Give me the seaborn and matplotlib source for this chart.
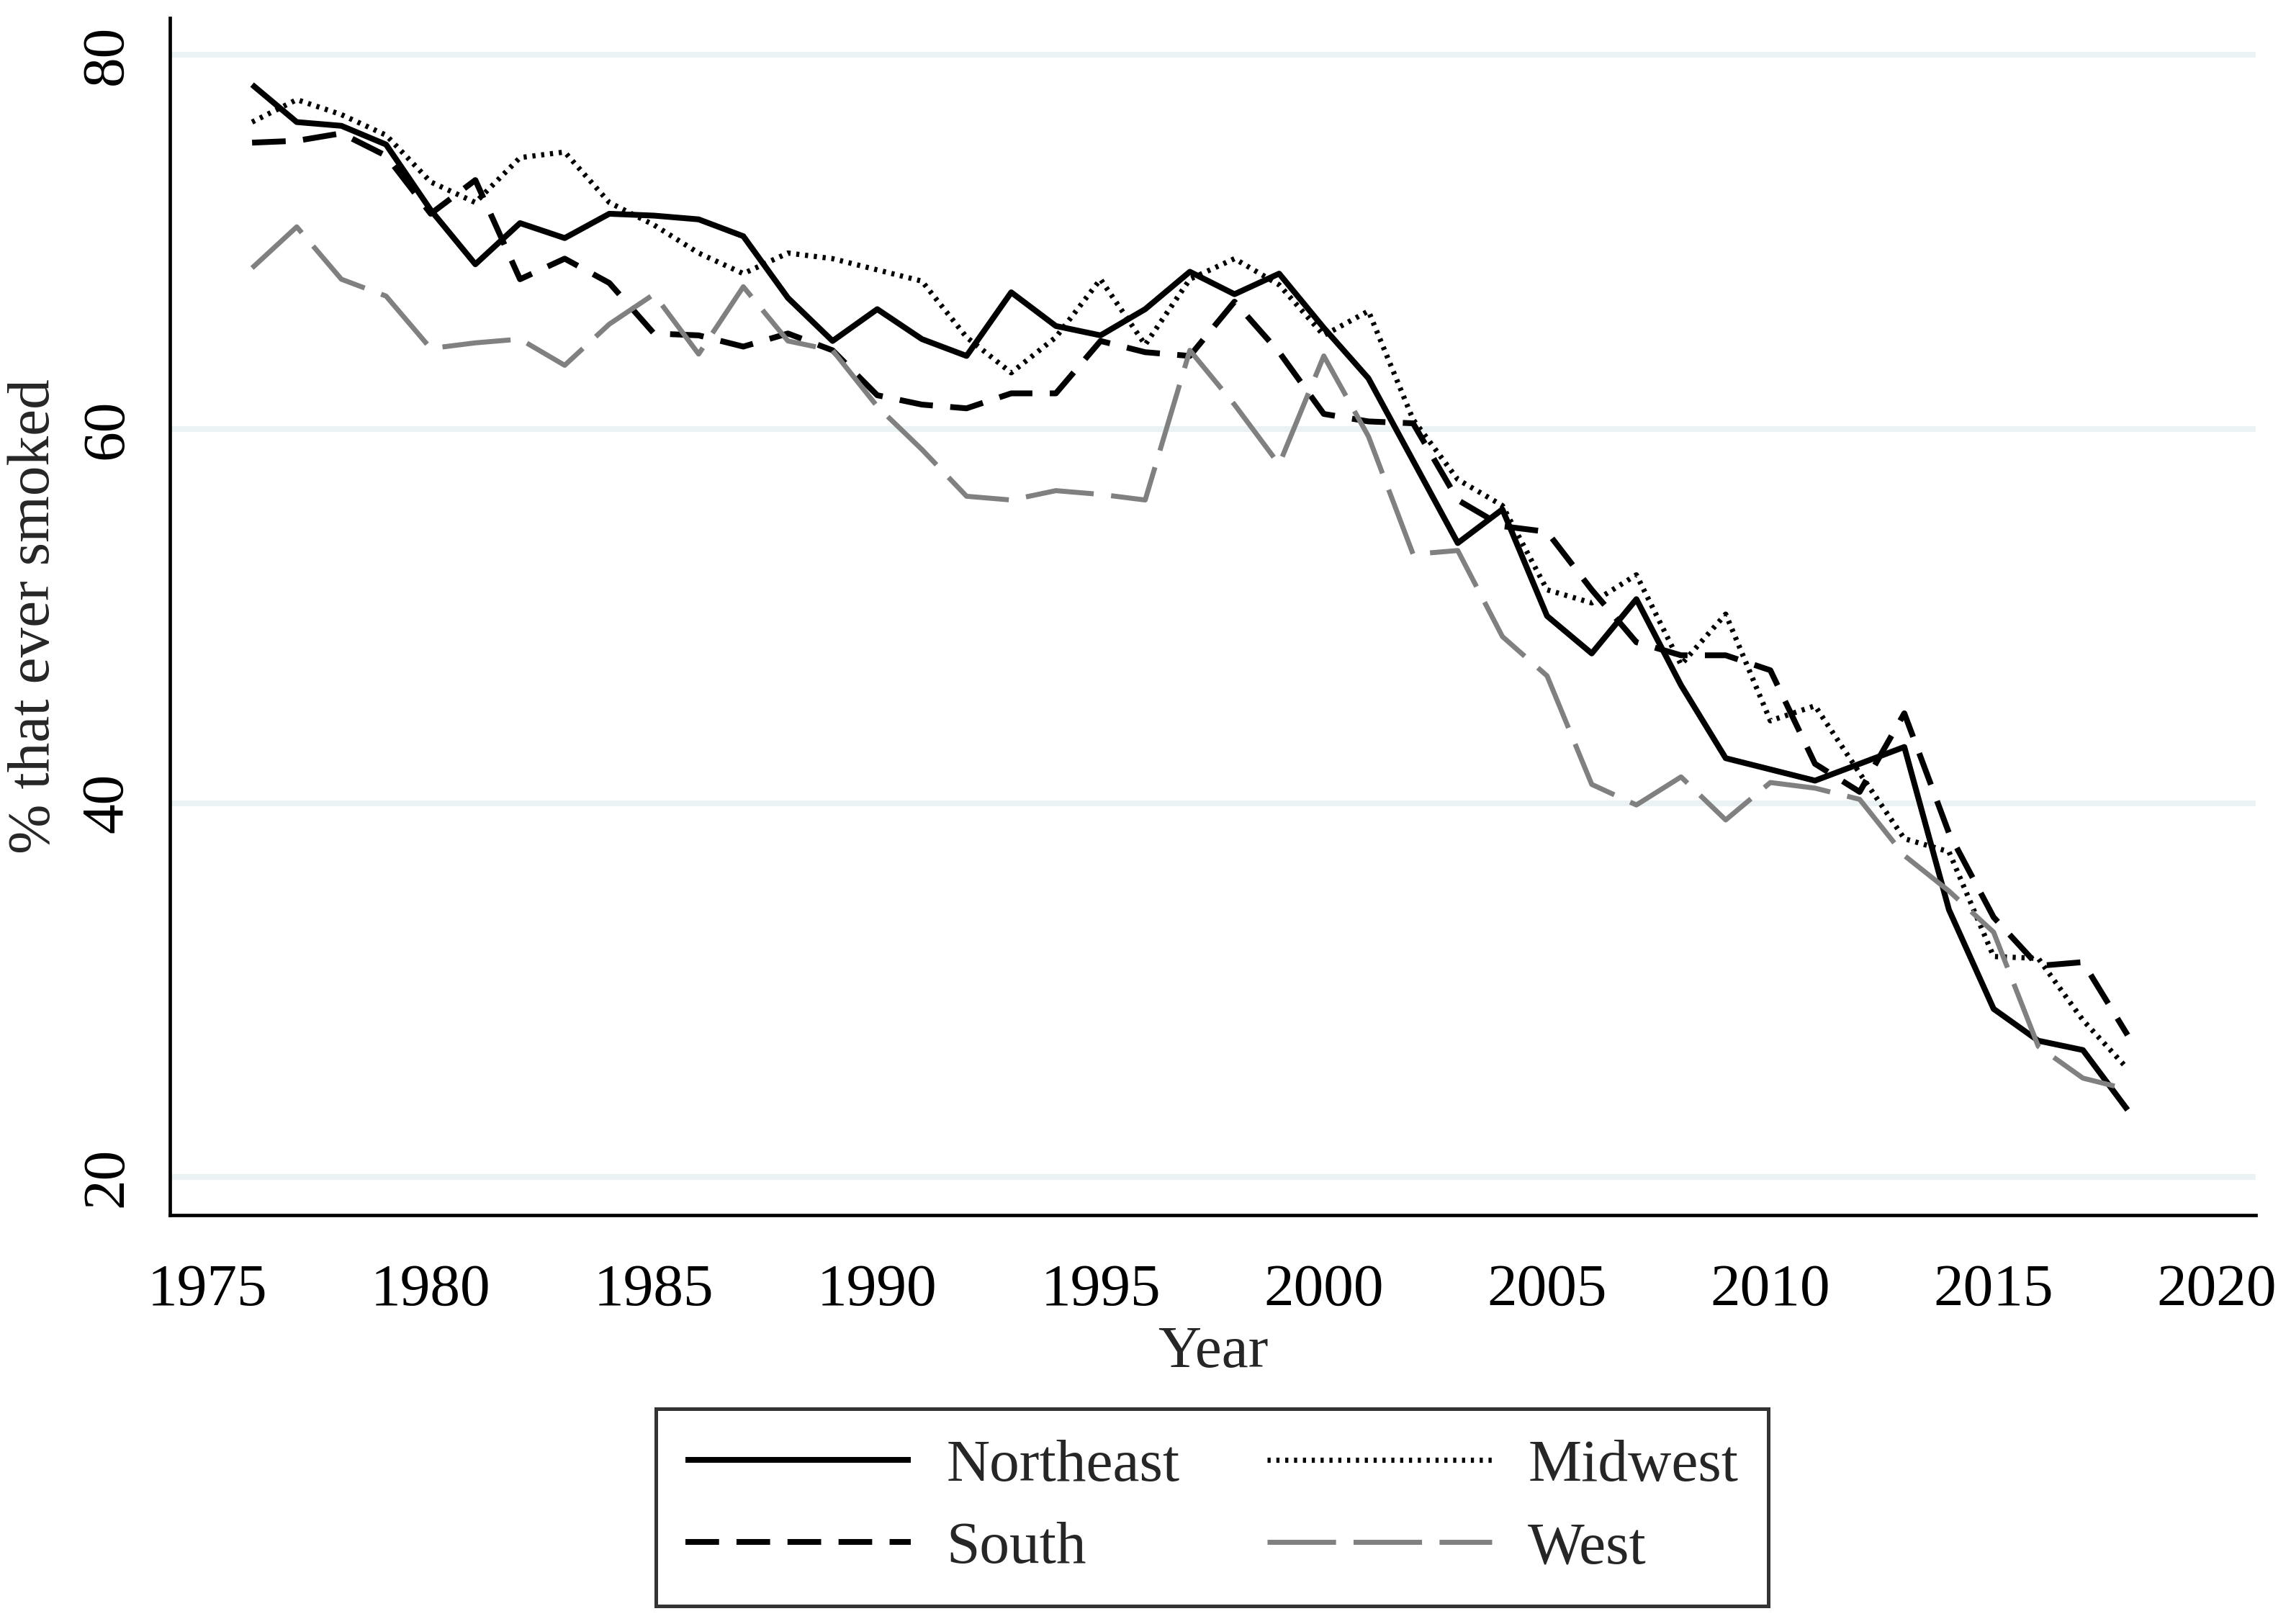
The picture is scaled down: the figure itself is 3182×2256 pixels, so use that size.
import numpy as np
import pandas as pd
import matplotlib
matplotlib.use("Agg")
import matplotlib.pyplot as plt
import seaborn as sns

# share of respondents that ever smoked, by census region
years = list(range(1976, 2019))
northeast = [78.4, 76.4, 76.2, 75.2, 71.7, 68.8, 71.0, 70.2, 71.5, 71.4,
             71.2, 70.3, 67.0, 64.7, 66.4, 64.8, 63.9, 67.3, 65.5, 65.0,
             66.4, 68.4, 67.2, 68.3, 65.4, 62.7, 58.3, 53.9, 55.7, 50.0,
             48.0, 50.9, 46.3, 42.4, 41.8, 41.2, 42.1, 43.0, 34.3, 29.0,
             27.3, 26.8, 23.6]
midwest = [76.4, 77.6, 76.8, 75.7, 73.2, 72.1, 74.5, 74.8, 72.1, 70.9,
           69.4, 68.3, 69.4, 69.1, 68.5, 67.9, 64.9, 63.0, 64.9, 68.0,
           64.5, 68.0, 69.1, 67.7, 65.0, 66.3, 60.5, 57.3, 55.9, 51.4,
           50.7, 52.2, 47.4, 50.1, 44.4, 45.2, 41.6, 38.1, 37.4, 31.8,
           31.7, 28.4, 25.8]
south = [75.3, 75.4, 75.8, 74.6, 71.5, 73.3, 68.0, 69.1, 67.8, 65.1,
         65.0, 64.4, 65.1, 64.2, 61.8, 61.3, 61.1, 61.9, 61.9, 64.7,
         64.1, 63.9, 66.8, 64.1, 60.8, 60.4, 60.3, 56.2, 54.8, 54.5,
         51.4, 48.6, 47.9, 47.9, 47.1, 42.1, 40.6, 44.8, 38.4, 33.9,
         31.3, 31.5, 27.6]
west = [68.6, 70.8, 68.0, 67.1, 64.3, 64.6, 64.8, 63.4, 65.6, 67.2,
        64.0, 67.6, 64.7, 64.2, 61.2, 58.9, 56.4, 56.2, 56.7, 56.5,
        56.2, 64.2, 61.3, 58.1, 63.9, 59.6, 53.3, 53.5, 48.9, 46.8,
        41.0, 39.9, 41.4, 39.1, 41.1, 40.8, 40.2, 37.2, 35.3, 33.1,
        27.0, 25.3, 24.7]

regions = ["Northeast", "Midwest", "South", "West"]
values = {"Northeast": northeast, "Midwest": midwest, "South": south, "West": west}
colors = {"Northeast": "black", "Midwest": "black", "South": "black", "West": "#808080"}
widths = {"Northeast": 2.9, "Midwest": 2.6, "South": 2.9, "West": 2.5}
styles = {"Northeast": "-", "Midwest": (0, (0.6, 1.1)),
          "South": (0, (5.8, 3.0)), "West": (0, (13.7, 3.5))}

df = pd.DataFrame({"year": years, **values}).melt(id_vars="year", var_name="region", value_name="pct")

sns.set_style("white")
plt.rcParams['font.family'] = ['Liberation Serif', 'DejaVu Serif']
plt.rcParams['lines.solid_capstyle'] = 'butt'

fig = plt.figure(figsize=(15.91, 11.28), dpi=200)
ax = fig.add_axes([0.07417, 0.2518, 0.91044, 0.7372])

for r in regions:
    sns.lineplot(data=df[df["region"] == r], x="year", y="pct", ax=ax, label=r,
                 color=colors[r], linewidth=widths[r], linestyle=styles[r])

ax.set_xlim(1974.16, 2020.87)
ax.set_ylim(17.98, 81.97)
ax.set_xticks(range(1975, 2021, 5))
ax.set_yticks([20, 40, 60, 80])
ax.yaxis.grid(True, color="#EAF2F3", linewidth=2.9)
ax.xaxis.grid(False)
ax.set_axisbelow(True)

sns.despine(ax=ax)
for s in ["left", "bottom"]:
    ax.spines[s].set_linewidth(1.7)
    ax.spines[s].set_color("black")

ax.tick_params(axis="x", length=12.2, width=1.8, labelsize=30, pad=12, colors="black")
ax.tick_params(axis="y", length=12.6, width=1.8, labelsize=30, pad=5, colors="black")
for lbl in ax.get_yticklabels():
    lbl.set_rotation(90)
    lbl.set_va("center")

ax.set_xlabel("Year", fontsize=30)
ax.xaxis.label.set_va("center")
ax.xaxis.set_label_coords(0.5, -0.115)
ax.set_ylabel("% that ever smoked", fontsize=30)
ax.yaxis.label.set_va("center")
ax.yaxis.set_label_coords(-0.0649, 0.5)

ax.get_legend().remove()
handles, labels = ax.get_legend_handles_labels()
order = ["Northeast", "South", "Midwest", "West"]
hmap = dict(zip(labels, handles))
leg = fig.legend([hmap[k] for k in order], order, loc="center",
                 bbox_to_anchor=(0.529, 0.0718), ncol=2, fontsize=30,
                 frameon=True, fancybox=False, edgecolor="black",
                 handlelength=3.75, handletextpad=0.6, columnspacing=1.45,
                 labelspacing=0.45, borderpad=0.5)
leg.get_frame().set_linewidth(1.8)

fig.savefig("out.png", dpi=200, facecolor="white")
